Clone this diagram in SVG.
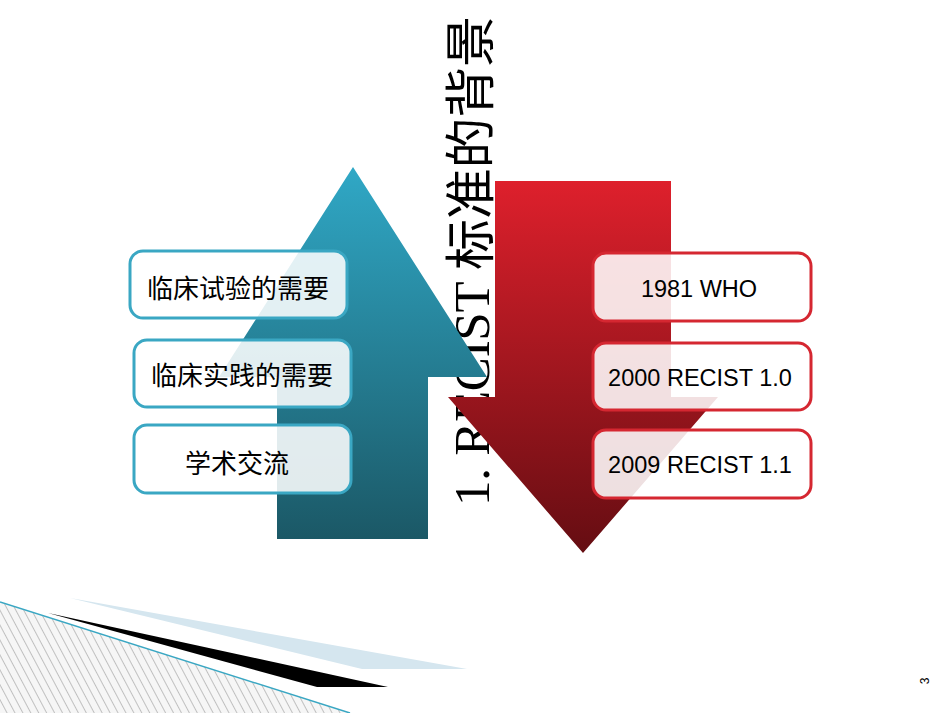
<svg xmlns="http://www.w3.org/2000/svg" width="950" height="713" viewBox="0 0 950 713">
<defs>
<linearGradient id="gTeal" x1="0" y1="0" x2="0" y2="1">
<stop offset="0" stop-color="#30a8c6"/>
<stop offset="1" stop-color="#1b5866"/>
</linearGradient>
<linearGradient id="gRed" x1="0" y1="0" x2="0" y2="1">
<stop offset="0" stop-color="#de202c"/>
<stop offset="1" stop-color="#650d12"/>
</linearGradient>
<pattern id="hatch" width="7" height="7" patternUnits="userSpaceOnUse" patternTransform="rotate(-28)">
<rect width="7" height="7" fill="#f6f6f6"/>
<line x1="0" y1="0" x2="0" y2="7" stroke="#8a8a8a" stroke-width="1"/>
</pattern>
<style>
.bt{fill:#ffffff;fill-opacity:0.87;stroke:#3aa7c3;stroke-width:3}
.br{fill:#ffffff;fill-opacity:0.87;stroke:#d52731;stroke-width:3}
.cj{font-family:"Noto Sans CJK SC","Noto Sans",sans-serif;font-size:26px;fill:#000;text-anchor:middle}
.en{font-family:"Liberation Sans",Arial,sans-serif;font-size:23.5px;fill:#000;text-anchor:middle}
</style>
</defs>
<rect width="950" height="713" fill="#ffffff"/>
<g id="decor">
<polygon points="0,602 350,713 0,713" fill="url(#hatch)"/>
<line x1="0" y1="602" x2="350" y2="713" stroke="#3aa7c3" stroke-width="1.5"/>
<polygon points="70,598 467,669 362,669" fill="#d5e6ef"/>
<polygon points="48,613 388,687 317,687" fill="#000000"/>
</g>
<g id="title">
<text transform="translate(489,506) rotate(-90)" font-family="'Liberation Serif','Noto Sans CJK SC',serif" font-size="51" fill="#000" textLength="490" lengthAdjust="spacing">1. RECIST 标准的背景</text>
</g>
<g id="arrow-up">
<polygon points="353,167 487,377 428,377 428,539 277,539 277,377 219,377" fill="url(#gTeal)"/>
</g>
<g id="arrow-down">
<polygon points="495,181 671,181 671,397 718,397 583,553 448,397 495,397" fill="url(#gRed)"/>
</g>
<g id="need1"><rect class="bt" x="130" y="251" width="217" height="67" rx="13"/><text class="cj" x="238" y="298">临床试验的需要</text></g>
<g id="need2"><rect class="bt" x="134" y="340" width="217" height="67" rx="13"/><text class="cj" x="242" y="385">临床实践的需要</text></g>
<g id="need3"><rect class="bt" x="134" y="425" width="217" height="68" rx="13"/><text class="cj" x="237" y="473">学术交流</text></g>
<g id="std1"><rect class="br" x="593" y="253" width="218" height="68" rx="13"/><text class="en" x="699" y="297">1981 WHO</text></g>
<g id="std2"><rect class="br" x="593" y="343" width="218" height="67" rx="13"/><text class="en" x="700" y="386">2000 RECIST 1.0</text></g>
<g id="std3"><rect class="br" x="593" y="430" width="218" height="68" rx="13"/><text class="en" x="700" y="473">2009 RECIST 1.1</text></g>
<g id="page"><text transform="translate(929,681) rotate(-90)" font-family="'Liberation Sans',sans-serif" font-size="12" fill="#000" text-anchor="middle">3</text></g>
</svg>
